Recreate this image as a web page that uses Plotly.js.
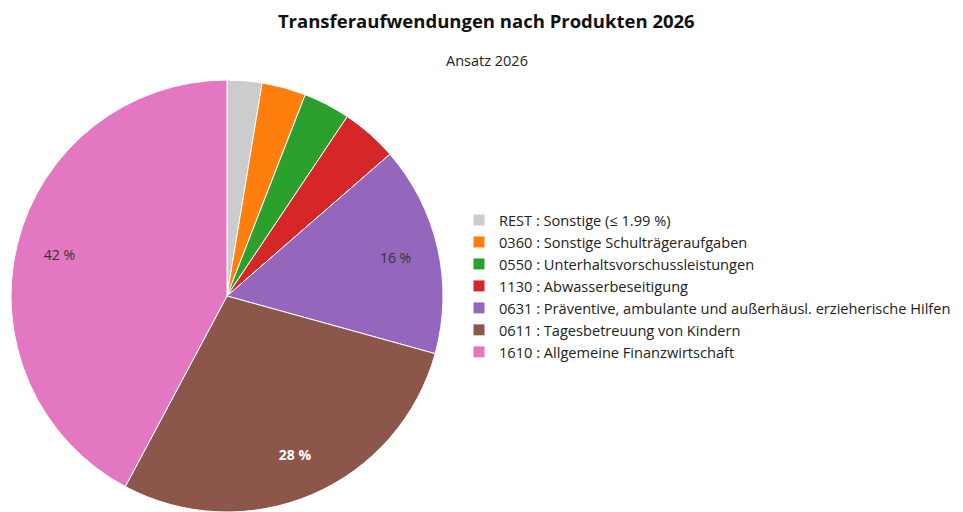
<!DOCTYPE html>
<html><head><meta charset="utf-8">
<script src="https://cdn.plot.ly/plotly-3.0.1.min.js"></script>
<style>html,body{margin:0;padding:0;background:#fff}#c{width:963px;height:512px}</style>
</head><body><div id="c"></div>
<script>
const labels = [
  "REST : Sonstige (≤ 1.99 %)",
  "0360 : Sonstige Schulträgeraufgaben",
  "0550 : Unterhaltsvorschussleistungen",
  "1130 : Abwasserbeseitigung",
  "0631 : Präventive, ambulante und außerhäusl. erzieherische Hilfen",
  "0611 : Tagesbetreuung von Kindern",
  "1610 : Allgemeine Finanzwirtschaft"
];
const values = [2.6, 3.3, 3.5, 4.2, 15.7, 28.5, 42.2];
const colors = ["#cccccc", "#ff7f0e", "#2ca02c", "#d62728", "#9467bd", "#8c564b", "#e377c2"];

const total = values.reduce((a, b) => a + b, 0);
const texts = values.map((v, i) => {
  const p = v / total * 100;
  if (p < 10) return "";
  const s = Math.round(p) + " %";
  return i === 5 ? "<b>" + s + "</b>" : s;
});
const textColors = values.map((v, i) => i === 5 ? "#ffffff" : "#333333");
const dom = {x: [11/963, 443/963], y: [0, 432/512]};

const data = [{
  type: "pie",
  labels: labels,
  values: values,
  textinfo: "none",
  sort: false,
  direction: "clockwise",
  rotation: 0,
  marker: {colors: colors, line: {color: "#ffffff", width: 1}},
  domain: dom,
  hoverinfo: "label+percent"
}, {
  type: "pie",
  labels: labels,
  values: values,
  text: texts,
  textinfo: "text",
  textposition: "inside",
  insidetextorientation: "horizontal",
  insidetextfont: {color: textColors, size: 14, family: "Open Sans, sans-serif"},
  hole: 0.6,
  sort: false,
  direction: "clockwise",
  rotation: 0,
  showlegend: false,
  marker: {colors: values.map(() => "rgba(0,0,0,0)"), line: {width: 0}},
  domain: dom,
  hoverinfo: "skip"
}];

const layout = {
  width: 963, height: 512,
  margin: {l: 0, r: 0, t: 0, b: 0},
  paper_bgcolor: "#ffffff",
  font: {family: "Open Sans, sans-serif", color: "#222"},
  title: {
    text: "<b>Transferaufwendungen nach Produkten 2026</b>",
    font: {size: 18.5, color: "#111", family: "Open Sans, sans-serif"},
    x: 0.505, xanchor: "center", y: 1 - 22/512, yanchor: "middle", yref: "container"
  },
  annotations: [{
    text: "Ansatz 2026", showarrow: false, xref: "paper", yref: "paper",
    x: 0.506, y: 1 - 60/512, xanchor: "center", yanchor: "middle",
    font: {size: 14.5, color: "#222"}
  }],
  showlegend: true,
  legend: {
    x: 459/963, xanchor: "left", y: 1 - 204/512, yanchor: "top",
    font: {size: 14.6, color: "#222"},
    traceorder: "normal"
  }
};

Plotly.newPlot("c", data, layout, {displayModeBar: false, staticPlot: true});
</script></body></html>
